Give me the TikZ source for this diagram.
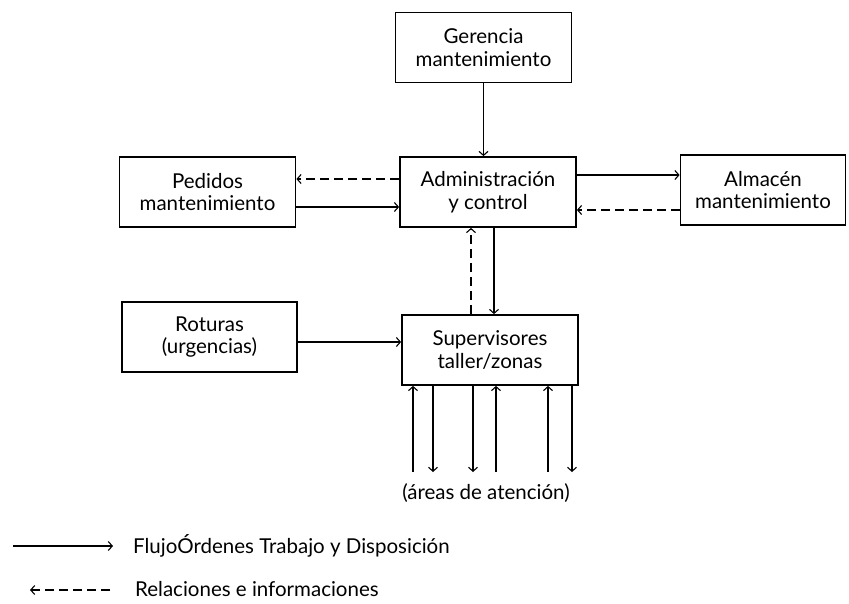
\documentclass[tikz,border=0pt]{standalone}
\usepackage{fontspec}
\setmainfont{Lato}
\usetikzlibrary{arrows.meta}
\begin{document}
\begin{tikzpicture}[x=1pt,y=-1pt,
  box/.style={draw,line width=1.8pt,minimum width=176pt,minimum height=70pt,
    align=center,inner sep=0pt,font=\fontsize{20.5}{22.5}\selectfont},
  flow/.style={line width=1.1pt,-{Straight Barb[length=4pt,width=9pt,line width=1.1pt]}},
  info/.style={flow,dash pattern=on 9pt off 5pt},
  lbl/.style={font=\fontsize{20.5}{22.5}\selectfont,inner sep=0pt}]
\useasboundingbox (0,0) rectangle (849,603);

% boxes
\node[box] (ger) at (483.5,47.5) {Gerencia\\mantenimiento};
\node[box] (ped) at (207.5,192) {Pedidos\\mantenimiento};
\node[box] (adm) at (488,192) {Administración\\y control};
\node[box,minimum width=165pt] (alm) at (763,190) {Almacén\\mantenimiento};
\node[box,minimum width=175pt] (rot) at (209.5,337) {Roturas\\(urgencias)};
\node[box] (sup) at (490,350) {Supervisores\\taller/zonas};

% helper rows and columns
\coordinate (yA) at (0,179);
\coordinate (yB) at (0,207);
\coordinate (yC) at (0,175);
\coordinate (yD) at (0,210);
\coordinate (yE) at (0,342);
\coordinate (xA) at (471,0);
\coordinate (xB) at (494,0);

% order flow and information links
\draw[flow] (ger.south) -- (ger.south |- adm.north);
\draw[info] (adm.west |- yA) -- (ped.east |- yA);
\draw[flow] (ped.east |- yB) -- (adm.west |- yB);
\draw[flow] (adm.east |- yC) -- (alm.west |- yC);
\draw[info] (alm.west |- yD) -- (adm.east |- yD);
\draw[info] (sup.north -| xA) -- (adm.south -| xA);
\draw[flow] (adm.south -| xB) -- (sup.north -| xB);
\draw[flow] (rot.east |- yE) -- (sup.west |- yE);

% attention areas
\node[lbl] (areas) at (486,493) {(áreas de atención)};
\foreach \x/\n in {413/a,433/b,473/c,496/d,548/e,572/f}
  \coordinate (p\n) at (\x,472);
\draw[flow] (pa) -- (sup.south -| pa);
\draw[flow] (sup.south -| pb) -- (pb);
\draw[flow] (sup.south -| pc) -- (pc);
\draw[flow] (pd) -- (sup.south -| pd);
\draw[flow] (pe) -- (sup.south -| pe);
\draw[flow] (sup.south -| pf) -- (pf);

% legend
\coordinate (l1a) at (13,546);
\coordinate (l1b) at (113,546);
\coordinate (l2a) at (110,590);
\coordinate (l2b) at (30,590);
\draw[flow] (l1a) -- (l1b);
\draw[info] (l2a) -- (l2b);
\node[lbl,anchor=west] (leg1) at (133,546) {FlujoÓrdenes Trabajo y Disposición};
\node[lbl,anchor=west] (leg2) at (135,589) {Relaciones e informaciones};
\end{tikzpicture}
\end{document}
